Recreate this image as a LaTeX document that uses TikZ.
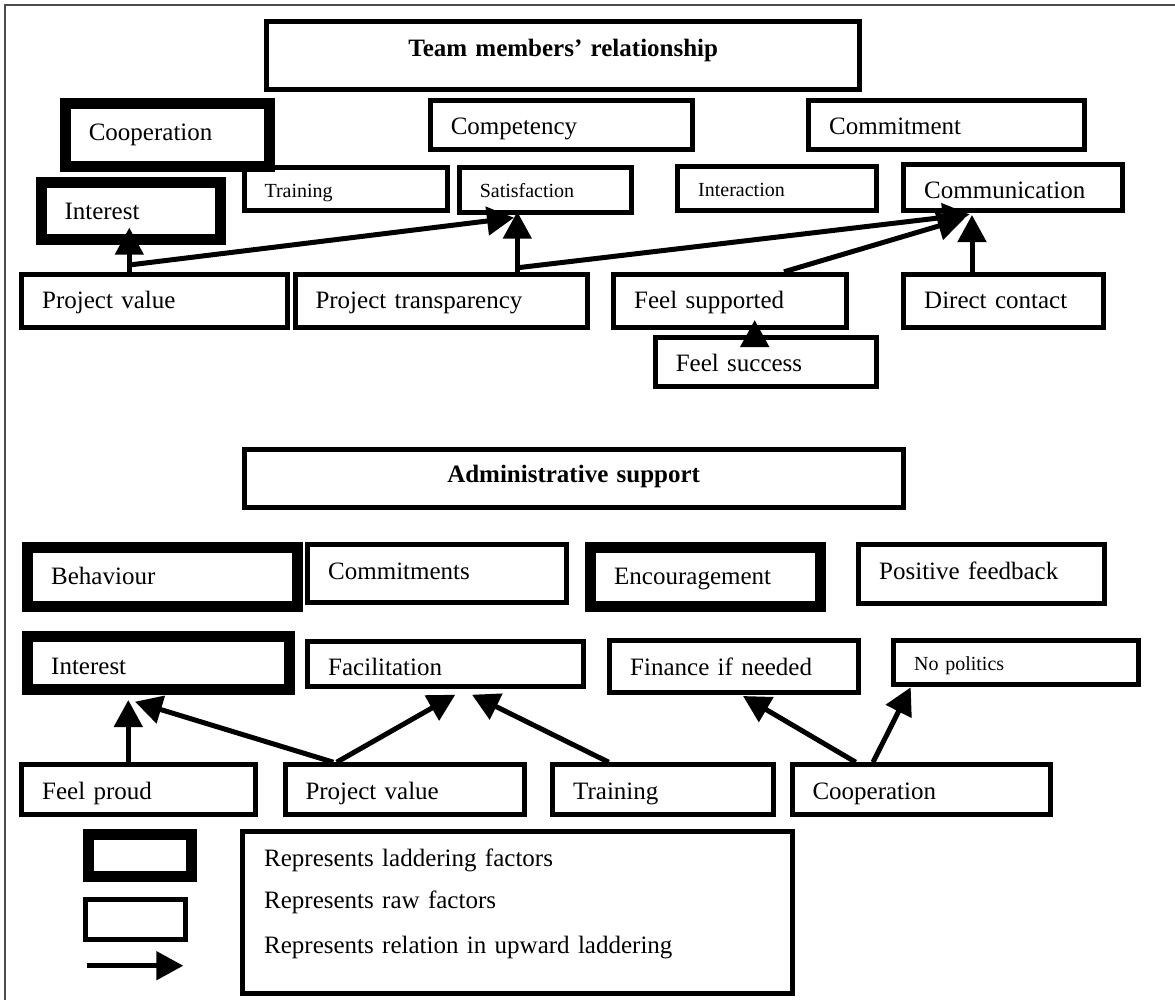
\documentclass[tikz,border=0pt]{standalone}
\usepackage{fontspec}
\setmainfont{Liberation Serif}
\usetikzlibrary{calc,arrows.meta}

\begin{document}
\begin{tikzpicture}[x=1pt,y=-1pt,
  rawbox/.style={draw, line width=5pt, anchor=north west, inner xsep=20.5pt, inner ysep=0pt,
    align=left, text height=34.5pt, font=\fontsize{25}{30}\selectfont},
  smallbox/.style={rawbox, text height=30pt, font=\fontsize{20}{24}\selectfont},
  ladbox/.style={rawbox, line width=11pt, inner xsep=23.5pt, text height=37.5pt},
  titlebox/.style={rawbox, align=center, font=\fontsize{25}{30}\selectfont\bfseries},
  uparrow/.style={line width=5pt, -{Triangle[length=27pt,width=28pt]}}]
\useasboundingbox (0,0) rectangle (1175,999);
\draw[line width=1.3pt, black!70] (5,5) rectangle (1190,1010);

% Team members' relationship
\node[titlebox, text width=552pt, text height=35.5pt, text depth=32.8pt] (team) at (264.2,18.5) {Team members’ relationship};
\node[ladbox, text width=157pt, text depth=25.9pt] (coop) at (59.8,97.8) {Cooperation};
\node[rawbox, text width=221.4pt, text depth=14.5pt] (comp) at (427.8,97.5) {Competency};
\node[rawbox, text width=235pt, text depth=14.5pt] (commit) at (806.2,97.5) {Commitment};
\node[ladbox, text width=132pt, text depth=19.8pt] (interest) at (35.5,176.5) {Interest};
\node[smallbox, text width=162pt, text depth=13pt] (train) at (241.5,165.2) {Training};
\node[smallbox, text width=131pt, text depth=14.6pt] (satis) at (456.8,165.2) {Satisfaction};
\node[smallbox, text width=157.6pt, text depth=14.7pt] (inter) at (675.2,163.5) {Interaction};
\node[rawbox, text width=177.3pt, text depth=12.2pt] (comm) at (901.2,161.5) {Communication};
\node[rawbox, text width=224.6pt, text depth=18.5pt] (pval) at (19.2,271.8) {Project value};
\node[rawbox, text width=251.7pt, text depth=18.5pt] (ptrans) at (292.5,271.8) {Project transparency};
\node[rawbox, text width=191.6pt, text depth=18.5pt] (fsupp) at (611.2,271.8) {Feel supported};
\node[rawbox, text width=158.3pt, text depth=18.5pt] (direct) at (901.2,271.8) {Direct contact};
\node[rawbox, text width=180pt, text depth=14.9pt] (fsucc) at (652.8,334.8) {Feel success};

\draw[uparrow] ($(pval.north west)+(110.1,0)$) -- ($(interest.south west)+(93.8,-17.1)$);
\draw[uparrow] ($(pval.north west)+(110.1,-6.8)$) -- ($(satis.south west)+(57.2,2.9)$);
\draw[uparrow] ($(ptrans.north west)+(224.8,0)$) -- ($(satis.south west)+(60.5,-3.1)$);
\draw[uparrow] ($(ptrans.north west)+(225.5,-4.1)$) -- ($(comm.south west)+(68.5,1.1)$);
\draw[uparrow] ($(fsupp.north west)+(172.8,0)$) -- ($(comm.south west)+(63.5,5.1)$);
\draw[uparrow] ($(direct.north west)+(70.8,0)$) -- ($(comm.south west)+(70.8,1.8)$);
\draw[uparrow] ($(fsucc.north west)+(101.9,8.5)$) -- ($(fsupp.south west)+(143.5,-9.8)$);

% Administrative support
\node[titlebox, text width=617.7pt, text height=33.2pt, text depth=24.8pt] (admin) at (241.8,446.8) {Administrative support};
\node[ladbox, text width=223pt, text depth=21.5pt] (behav) at (22.2,541.8) {Behaviour};
\node[rawbox, text width=217.3pt, text depth=23.1pt] (cmts) at (305.2,542.2) {Commitments};
\node[ladbox, text width=182.6pt, text depth=21.5pt] (encour) at (585.2,541.8) {Encouragement};
\node[rawbox, text width=204.3pt, text depth=23.8pt] (posfb) at (856.2,542.2) {Positive feedback};
\node[ladbox, text width=214.3pt, text depth=15.5pt] (interest2) at (22.2,631.2) {Interest};
\node[rawbox, text width=235pt, text depth=10.5pt] (facil) at (305.2,638.8) {Facilitation};
\node[rawbox, text width=208pt, text depth=17.1pt] (fin) at (607.2,638.2) {Finance if needed};
\node[smallbox, text width=203.3pt, text depth=13.3pt] (nopol) at (891.2,638.2) {No politics};
\node[rawbox, text width=192.3pt, text depth=14.8pt] (fproud) at (19.2,762.2) {Feel proud};
\node[rawbox, text width=198.7pt, text depth=14.8pt] (pval2) at (282.5,762.2) {Project value};
\node[rawbox, text width=180pt, text depth=14.8pt] (train2) at (550.2,762.2) {Training};
\node[rawbox, text width=217.7pt, text depth=14.8pt] (coop2) at (789.5,762.2) {Cooperation};

\draw[uparrow] ($(fproud.north west)+(109.1,0)$) -- ($(interest2.south west)+(106.1,4.8)$);
\draw[uparrow] ($(pval2.north west)+(50.8,0)$) -- ($(interest2.south west)+(112.8,6.5)$);
\draw[uparrow] ($(pval2.north west)+(54.2,0)$) -- ($(facil.south west)+(150.1,5.9)$);
\draw[uparrow] ($(train2.north west)+(58.5,0)$) -- ($(facil.south west)+(166.8,5.9)$);
\draw[uparrow] ($(coop2.north west)+(66.2,0)$) -- ($(fin.south west)+(135.8,1.2)$);
\draw[uparrow] ($(coop2.north west)+(83.5,0)$) -- ($(nopol.south west)+(19.5,0.8)$);

% Legend
\node[ladbox, minimum width=103.4pt, minimum height=42.3pt] (legbold) at (82.8,828.5) {};
\node[rawbox, minimum width=100.7pt, minimum height=40pt] (legraw) at (82.5,897.2) {};
\coordinate (legtail) at (86.7,965.7);
\coordinate (leghead) at (183.3,965.7);
\draw[uparrow] (legtail) -- (leghead);
\node[rawbox, inner xsep=21.5pt, text width=506.3pt, text height=35.2pt, text depth=126.8pt,
  font=\fontsize{25}{42.3}\selectfont] (legtext) at (240.2,828.8)
  {Represents laddering factors\\ Represents raw factors\\[2.1pt] Represents relation in upward laddering};
\end{tikzpicture}
\end{document}
